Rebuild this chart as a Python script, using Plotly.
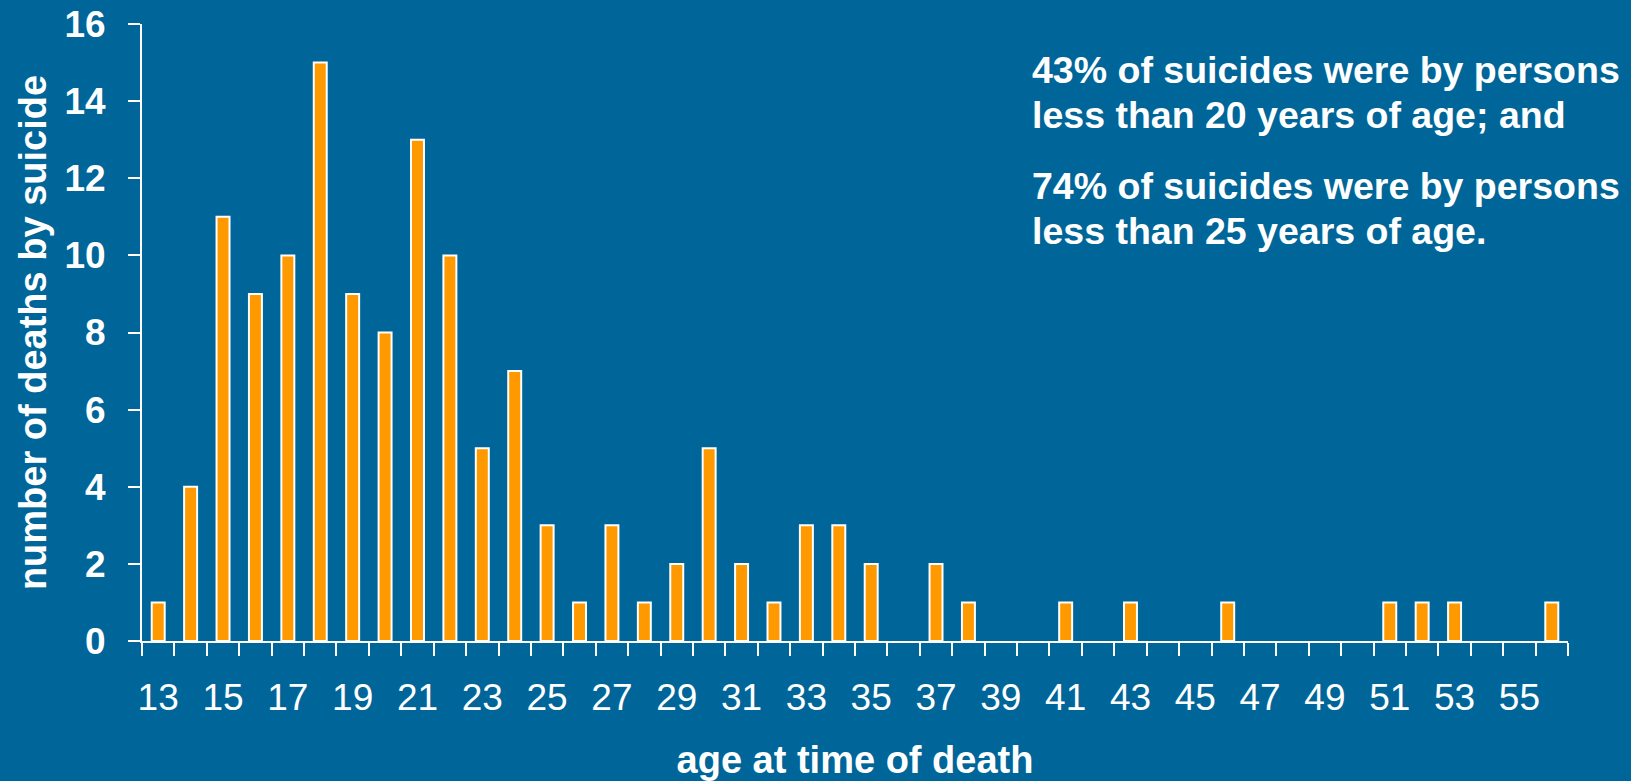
import plotly.graph_objects as go

ages = list(range(13, 57))
deaths = [1, 4, 11, 9, 10, 15, 9, 8, 13, 10, 5, 7, 3, 1, 3, 1, 2, 5, 2, 1,
          3, 3, 2, 0, 2, 1, 0, 0, 1, 0, 1, 0, 0, 1, 0, 0, 0, 0, 1, 1,
          1, 0, 0, 1]
tick_labels = [str(a) for a in range(13, 56, 2)]
notes = [
    "43% of suicides were by persons",
    "less than 20 years of age; and",
    "74% of suicides were by persons",
    "less than 25 years of age.",
]

BG = "#006699"
FONT = "Liberation Sans, Arial, sans-serif"

# no outline on empty bars
outline_widths = [2 if v > 0 else 0 for v in deaths]

fig = go.Figure(
    go.Bar(
        x=ages,
        y=deaths,
        width=0.4,
        marker=dict(color="#FF9900", line=dict(color="white", width=outline_widths)),
        hoverinfo="x+y",
    )
)

fig.update_layout(
    template="none",
    width=1631,
    height=781,
    paper_bgcolor=BG,
    plot_bgcolor=BG,
    margin=dict(l=142, r=63, t=24, b=140),
    showlegend=False,
    font=dict(family=FONT, color="white", size=37),
)

fig.update_xaxes(
    range=[12.5, 56.5],
    tickmode="array",
    tickvals=list(range(13, 56, 2)),
    ticktext=tick_labels,
    ticks="",
    ticklabelstandoff=23,
    tickfont=dict(family=FONT, size=37, color="white"),
    showgrid=False,
    zeroline=False,
    showline=True,
    linecolor="white",
    linewidth=2,
    automargin=False,
    minor=dict(tickmode="linear", tick0=12.5, dtick=1, ticks="outside",
               ticklen=13, tickwidth=2, tickcolor="white", showgrid=False),
    title=dict(text="<b>age at time of death</b>",
               font=dict(family=FONT, size=38, color="white"), standoff=33),
)

fig.update_yaxes(
    range=[0, 16],
    tickmode="linear",
    tick0=0,
    dtick=2,
    ticks="outside",
    ticklen=12,
    tickwidth=2,
    tickcolor="white",
    tickprefix="<b>",
    ticksuffix="</b>",
    ticklabelstandoff=15,
    tickfont=dict(family=FONT, size=37, color="white"),
    showgrid=False,
    zeroline=False,
    showline=True,
    linecolor="white",
    linewidth=2,
    automargin=False,
    title=dict(text="<b>number of deaths by suicide</b>",
               font=dict(family=FONT, size=38, color="white"), standoff=6),
)

ys = [0.9255, 0.8526, 0.7375, 0.6645]
for txt, yy in zip(notes, ys):
    fig.add_annotation(
        text="<b>" + txt + "</b>",
        xref="paper", yref="paper",
        x=0.6227, y=yy,
        xanchor="left", yanchor="middle",
        showarrow=False,
        font=dict(family=FONT, size=37.5, color="white"),
    )

fig.write_html(
    "out.html",
    config={"displayModeBar": False},
    post_script="document.body.style.margin='0';document.body.style.overflow='hidden';document.body.style.background='" + BG + "';",
)
